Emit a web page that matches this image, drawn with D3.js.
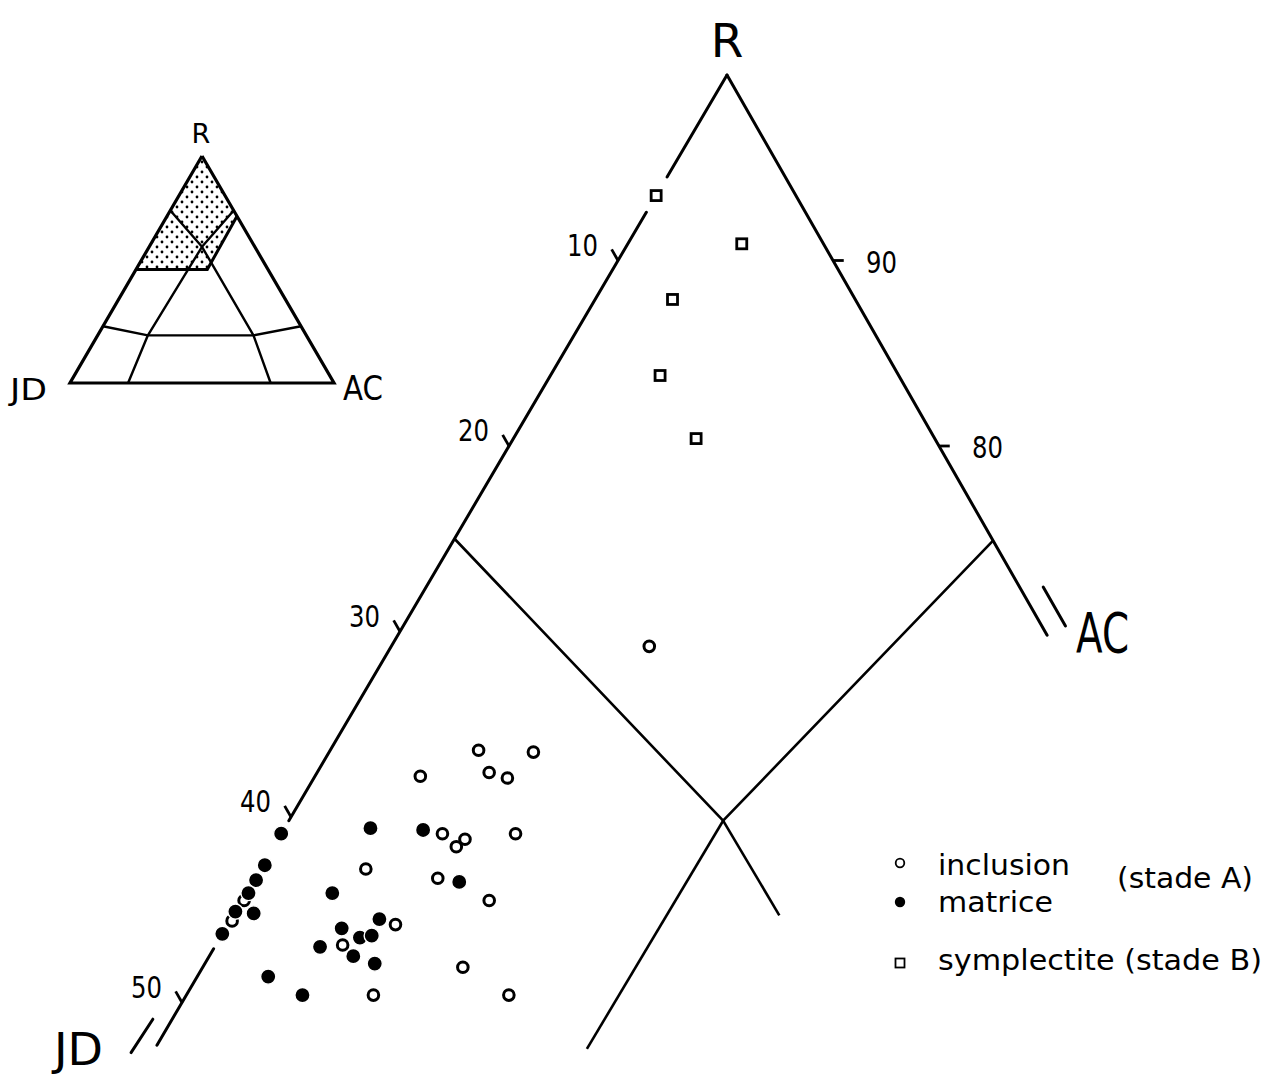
<!DOCTYPE html>
<html><head><meta charset="utf-8">
<script src="https://cdn.jsdelivr.net/npm/d3@7"></script>
<style>html,body{margin:0;padding:0;background:#fff}</style>
</head><body>
<svg id="chart" width="1270" height="1077"></svg>
<script>
// ---------- DATA (ternary coordinates: [JD %, AC %], R = 100 - JD - AC) ----------
const inclusion = [ // open circles, stade A
  [18.8,12.0],[29.5,6.9],[27.0,9.5],[32.9,4.9],[29.6,8.0],[28.9,9.0],
  [33.4,7.5],[32.5,8.7],[33.1,8.5],[30.0,10.9],[37.9,4.9],[34.8,8.5],
  [33.0,11.5],[38.0,7.8],[41.0,5.9],[36.0,12.1],[34.6,15.0],[40.9,8.7],
  [44.4,0.1],[45.5,0.1]
];
const matrice = [ // filled circles, stade A
  [40.9,0.0],[42.5,0.1],[43.3,0.1],[44.0,0.1],[45.1,0.0],[44.3,0.9],[46.3,0.0],
  [36.6,4.0],[34.2,6.5],[40.1,4.0],[33.9,9.6],[38.6,6.9],[40.6,5.4],
  [40.0,6.5],[39.4,7.0],[42.1,4.9],[40.8,6.7],[40.0,7.9],[45.3,3.3],[44.2,5.4]
];
const symplectite = [ // open squares, stade B
  [6.5,0.0],[3.8,5.3],[8.5,3.6],[11.1,5.1],[11.1,8.5]
];
const leftTicks = [10,20,30,40,50];   // JD % along R–JD edge
const rightTicks = [90,80];           // R % along R–AC edge
const legendItems = ["inclusion","matrice","symplectite (stade B)"];

// main diagram lines (ternary [JD, AC])
const edgeSegments = [
  [[0,0],[5.5,0]], [[7.4,0],[40.2,0]], [[47.1,0],[52.3,0]], [[0,0],[0,30.2]]
];
const breakMarks = [ [[51.8,-0.9],[53.7,-1.0]], [[-1.1,28.7],[-1.1,30.8]] ];
const fieldLines = [
  [[25,0],[20,20.2],[0,25.1]],
  [[20,20.2],[32.4,20.1]],
  [[20,20.2],[19.9,25.4]]
];
// inset diagram
const insetTriangle = [[0,0],[100,0],[0,100],[0,0]];
const insetShaded = [[0,0],[0,26.5],[23,27],[50,0]];
const insetShadeBorder = [[50,0],[23,27],[0,26.5]];
const insetLines = [
  [[24,0],[20,20],[0,24]],
  [[20,20],[60,19],[78,22]],
  [[20,20],[20,59],[24,76]],
  [[75,0],[60,19],[20,59],[0,75]]
];

// ---------- SCALES ----------
const svg = d3.select("#chart");
const sumY = d3.scaleLinear().domain([0,100]).range([75, 75+1855]);
const jdX = d3.scaleLinear().domain([0,100]).range([0,-1090]);
const acX = d3.scaleLinear().domain([0,100]).range([0,1060]);
const X0 = 727;
const P = ([jd,ac]) => [X0 + jdX(jd) + acX(ac), sumY(jd+ac)];

const iY = d3.scaleLinear().domain([0,100]).range([156,383]);
const iJd = d3.scaleLinear().domain([0,100]).range([0,-132]);
const iAc = d3.scaleLinear().domain([0,100]).range([0,132]);
const Pi = ([jd,ac]) => [202 + iJd(jd) + iAc(ac), iY(jd+ac)];

const lineMain = d3.line().x(d=>P(d)[0]).y(d=>P(d)[1]);
const lineInset = d3.line().x(d=>Pi(d)[0]).y(d=>Pi(d)[1]);

const FONT = "'DejaVu Sans', sans-serif";

// ---------- INSET ----------
const defs = svg.append("defs");
const pat = defs.append("pattern").attr("id","dots").attr("patternUnits","userSpaceOnUse")
  .attr("width",10).attr("height",10);
pat.append("circle").attr("cx",2).attr("cy",2).attr("r",1.4).attr("fill","#000");
pat.append("circle").attr("cx",7).attr("cy",7).attr("r",1.4).attr("fill","#000");

const gi = svg.append("g");
gi.append("path").attr("d", lineInset(insetShaded)+"Z").attr("fill","url(#dots)");
gi.append("path").attr("d", lineInset(insetShadeBorder)).attr("fill","none")
  .attr("stroke","#000").attr("stroke-width",3);
gi.selectAll("path.il").data(insetLines).join("path").attr("class","il")
  .attr("d", lineInset).attr("fill","none").attr("stroke","#000").attr("stroke-width",2.4)
  .attr("stroke-linejoin","round");
gi.append("path").attr("d", lineInset(insetTriangle)).attr("fill","none")
  .attr("stroke","#000").attr("stroke-width",3.2).attr("stroke-linejoin","miter");
gi.append("text").attr("x",201).attr("y",143).attr("text-anchor","middle")
  .attr("font-family",FONT).attr("font-size",27).text("R");
gi.append("text").attr("x",10).attr("y",400).attr("font-family",FONT).attr("font-size",31)
  .attr("textLength",37).attr("lengthAdjust","spacingAndGlyphs").text("JD");
gi.append("text").attr("x",343).attr("y",400).attr("font-family",FONT).attr("font-size",33)
  .attr("textLength",40).attr("lengthAdjust","spacingAndGlyphs").text("AC");

// ---------- MAIN DIAGRAM ----------
const gm = svg.append("g");
gm.selectAll("path.edge").data(edgeSegments.concat(breakMarks)).join("path").attr("class","edge")
  .attr("d", lineMain).attr("fill","none").attr("stroke","#000").attr("stroke-width",3)
  .attr("stroke-linecap","round");
gm.selectAll("path.field").data(fieldLines).join("path").attr("class","field")
  .attr("d", lineMain).attr("fill","none").attr("stroke","#000").attr("stroke-width",2.6)
  .attr("stroke-linejoin","miter");

// left ticks (outward along constant-JD direction)
gm.selectAll("path.lt").data(leftTicks).join("path").attr("class","lt")
  .attr("d", v => lineMain([[v,0],[v,-0.6]])).attr("stroke","#000").attr("stroke-width",2.8).attr("fill","none");
gm.selectAll("text.lt").data(leftTicks).join("text").attr("class","lt")
  .attr("x", v => P([v,0])[0]-20).attr("y", v => P([v,0])[1]-5)
  .attr("text-anchor","end").attr("font-family",FONT).attr("font-size",30)
  .attr("textLength",31).attr("lengthAdjust","spacingAndGlyphs").text(v=>v);
// right ticks (horizontal outward, constant R)
gm.selectAll("path.rt").data(rightTicks).join("path").attr("class","rt")
  .attr("d", v => lineMain([[0,100-v],[-0.5,100-v+0.5]])).attr("stroke","#000").attr("stroke-width",2.8).attr("fill","none");
gm.selectAll("text.rt").data(rightTicks).join("text").attr("class","rt")
  .attr("x", v => P([0,100-v])[0]+33).attr("y", v => P([0,100-v])[1]+12)
  .attr("font-family",FONT).attr("font-size",30)
  .attr("textLength",31).attr("lengthAdjust","spacingAndGlyphs").text(v=>v);

// vertex labels
gm.append("text").attr("x",727).attr("y",57).attr("text-anchor","middle")
  .attr("font-family",FONT).attr("font-size",47).text("R");
gm.append("text").attr("x",1076).attr("y",652).attr("font-family",FONT).attr("font-size",55)
  .attr("textLength",53).attr("lengthAdjust","spacingAndGlyphs").text("AC");
gm.append("text").attr("x",54).attr("y",1065).attr("font-family",FONT).attr("font-size",44)
  .attr("textLength",49).attr("lengthAdjust","spacingAndGlyphs").text("JD");

// data points
gm.selectAll("circle.inc").data(inclusion).join("circle").attr("class","inc")
  .attr("cx", d=>P(d)[0]).attr("cy", d=>P(d)[1]).attr("r",5.3)
  .attr("fill","#fff").attr("stroke","#000").attr("stroke-width",3);
gm.selectAll("circle.mat").data(matrice).join("circle").attr("class","mat")
  .attr("cx", d=>P(d)[0]).attr("cy", d=>P(d)[1]).attr("r",7.6)
  .attr("fill","#000").attr("stroke","#fff").attr("stroke-width",1.4);
gm.selectAll("rect.sym").data(symplectite).join("rect").attr("class","sym")
  .attr("x", d=>P(d)[0]-5).attr("y", d=>P(d)[1]-5).attr("width",10).attr("height",10)
  .attr("fill","#fff").attr("stroke","#000").attr("stroke-width",2.8);

// ---------- LEGEND ----------
const gl = svg.append("g").attr("font-family",FONT).attr("font-size",29);
gl.append("circle").attr("cx",900).attr("cy",863).attr("r",4.3).attr("fill","#fff").attr("stroke","#000").attr("stroke-width",1.8);
gl.append("circle").attr("cx",900).attr("cy",902).attr("r",5.2).attr("fill","#000");
gl.append("rect").attr("x",895.5).attr("y",958.5).attr("width",9).attr("height",9).attr("fill","#fff").attr("stroke","#000").attr("stroke-width",1.8);
gl.append("text").attr("x",938).attr("y",875).attr("textLength",132).attr("lengthAdjust","spacingAndGlyphs").text(legendItems[0]);
gl.append("text").attr("x",938).attr("y",912).attr("textLength",115).attr("lengthAdjust","spacingAndGlyphs").text(legendItems[1]);
gl.append("text").attr("x",1117).attr("y",888).attr("textLength",136).attr("lengthAdjust","spacingAndGlyphs").text("(stade A)");
gl.append("text").attr("x",938).attr("y",970).attr("textLength",324).attr("lengthAdjust","spacingAndGlyphs").text(legendItems[2]);
</script>
</body></html>
